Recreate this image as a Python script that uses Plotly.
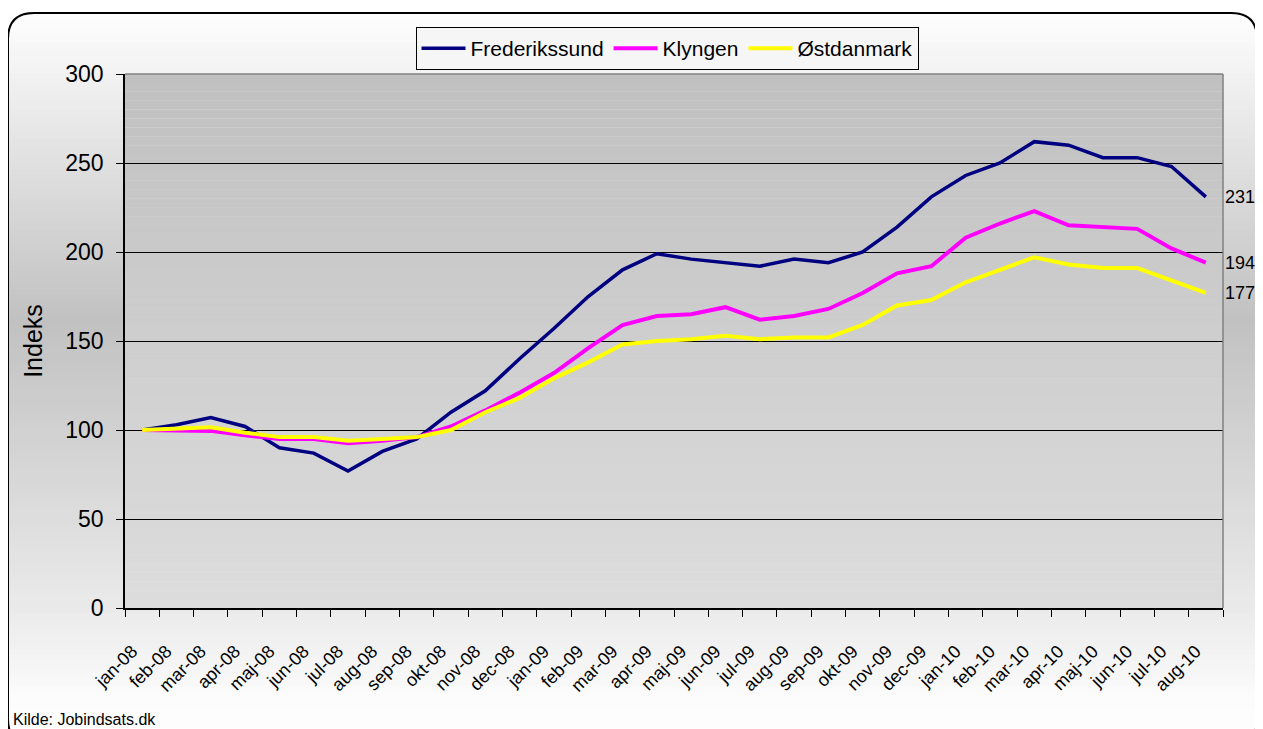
import plotly.graph_objects as go

months = ["jan-08", "feb-08", "mar-08", "apr-08", "maj-08", "jun-08", "jul-08", "aug-08",
          "sep-08", "okt-08", "nov-08", "dec-08", "jan-09", "feb-09", "mar-09", "apr-09",
          "maj-09", "jun-09", "jul-09", "aug-09", "sep-09", "okt-09", "nov-09", "dec-09",
          "jan-10", "feb-10", "mar-10", "apr-10", "maj-10", "jun-10", "jul-10", "aug-10"]

frederikssund = [100, 103, 107, 102, 90, 87, 77, 88, 95, 110, 122, 140, 157, 175, 190, 199,
                 196, 194, 192, 196, 194, 200, 214, 231, 243, 250, 262, 260, 253, 253, 248, 231]
klyngen = [100, 99.5, 99.5, 97, 95, 95, 92.5, 94, 96, 102, 111, 121, 132, 146, 159, 164,
           165, 169, 162, 164, 168, 177, 188, 192, 208, 216, 223, 215, 214, 213, 202, 194]
ostdanmark = [100, 101, 101.5, 98.5, 96, 96, 94, 95, 96, 100, 110, 118, 129, 138, 148, 150,
              151, 153, 151, 152, 152, 159, 170, 173, 183, 190, 197, 193, 191, 191, 184, 177]

series_names = ["Frederikssund", "Klyngen", "Østdanmark"]
series_values = [frederikssund, klyngen, ostdanmark]
series_colors = ["#000080", "#FF00FF", "#FFFF00"]
series_widths = [3.5, 4, 4]

y_ticks = [0, 50, 100, 150, 200, 250, 300]

# ---- layout geometry (pixels of the 1263x729 window) ----
OFF = 8                      # default page margin of the html body
WIN_W, WIN_H = 1263, 729
FW, FH = WIN_W - OFF, WIN_H - OFF
L, R, T, B = 125, 1223, 74, 608
W, H = R - L, B - T


def px(x):
    return (x - L) / W


def py(y):
    return (B - y) / H


def grey(v):
    v = int(round(max(0, min(255, v))))
    return f"rgb({v},{v},{v})"


def interp(stops, y):
    for (y0, v0), (y1, v1) in zip(stops, stops[1:]):
        if y0 <= y <= y1:
            return v0 + (v1 - v0) * (y - y0) / (y1 - y0)
    return stops[-1][1]


shapes = []
# outer background gradient
outer_stops = [(0, 255), (13, 254), (320, 193), (608, 234), (700, 252), (760, 255)]
step = 6
y = 13
while y < WIN_H + 10:
    c = interp(outer_stops, y + step / 2)
    shapes.append(dict(type="rect", xref="paper", yref="paper",
                       x0=px(9), x1=px(1256), y0=py(y), y1=py(y + step),
                       fillcolor=grey(c), line=dict(width=0), layer="below"))
    y += step

# plot area gradient
nb = 60
for i in range(nb):
    c = 221 - (221 - 192) * (i + 0.5) / nb
    shapes.append(dict(type="rect", xref="paper", yref="paper",
                       x0=0, x1=1, y0=i / nb, y1=(i + 1) / nb,
                       fillcolor=grey(c), line=dict(width=0), layer="below"))

# rounded outer border
x0b, x1b, y0b, y1b, r = 8, 1257, 13, 745, 26
path = (f"M {px(x0b)},{py(y0b + r)} Q {px(x0b)},{py(y0b)} {px(x0b + r)},{py(y0b)} "
        f"L {px(x1b - r)},{py(y0b)} Q {px(x1b)},{py(y0b)} {px(x1b)},{py(y0b + r)} "
        f"L {px(x1b)},{py(y1b - r)} Q {px(x1b)},{py(y1b)} {px(x1b - r)},{py(y1b)} "
        f"L {px(x0b + r)},{py(y1b)} Q {px(x0b)},{py(y1b)} {px(x0b)},{py(y1b - r)} Z")
shapes.append(dict(type="path", xref="paper", yref="paper", path=path,
                   line=dict(color="black", width=2), layer="above"))

# grey plot-area border (top and right)
shapes.append(dict(type="line", xref="paper", yref="paper", x0=0, x1=1, y0=1, y1=1,
                   line=dict(color="#808080", width=1.5), layer="above"))
shapes.append(dict(type="line", xref="paper", yref="paper", x0=1, x1=1, y0=0, y1=1,
                   line=dict(color="#808080", width=1.5), layer="above"))

fig = go.Figure()
for name, vals, col, wd in zip(series_names, series_values, series_colors, series_widths):
    fig.add_trace(go.Scatter(x=months, y=vals, name=name, mode="lines",
                             line=dict(color=col, width=wd)))

regular = "Liberation Sans, Arial, sans-serif"
narrow = "Liberation Sans Narrow, Arial Narrow, Liberation Sans, Arial, sans-serif"

annotations = []
for vals in series_values:
    annotations.append(dict(x=months[-1], y=vals[-1], xref="x", yref="y",
                            text=f"{vals[-1]:g}", showarrow=False, xanchor="left",
                            yanchor="middle", xshift=17,
                            font=dict(family=narrow, size=18, color="black")))
annotations.append(dict(x=px(11), y=py(719), xref="paper", yref="paper",
                        text="Kilde: Jobindsats.dk", showarrow=False,
                        xanchor="left", yanchor="middle",
                        font=dict(family=regular, size=16, color="black")))

fig.update_layout(
    width=FW, height=FH,
    margin=dict(l=L - OFF, r=WIN_W - R, t=T - OFF, b=WIN_H - B, autoexpand=False),
    paper_bgcolor="white",
    plot_bgcolor="rgba(0,0,0,0)",
    shapes=shapes,
    annotations=annotations,
    showlegend=True,
    legend=dict(orientation="h", x=px(667), xanchor="center", y=py(27), yanchor="top",
                bgcolor="#f6f6f6", bordercolor="black", borderwidth=1,
                font=dict(family=regular, size=21, color="black"),
                itemwidth=44, tracegroupgap=0),
    xaxis=dict(type="category", categoryorder="array", categoryarray=months,
               tickson="boundaries", ticks="outside", ticklen=7, tickcolor="black",
               tickwidth=1, showline=True, linecolor="black", linewidth=1.5,
               showgrid=False, tickangle=-45, ticklabelstandoff=24, ticklabelshift=-10,
               tickfont=dict(family=narrow, size=18, color="black"),
               range=[-0.5, len(months) - 0.5]),
    yaxis=dict(range=[0, 300], tickvals=y_ticks, ticks="outside", ticklen=7,
               tickcolor="black", tickwidth=1, showline=True, linecolor="black",
               linewidth=1.5, showgrid=True, gridcolor="black", gridwidth=1,
               zeroline=False, ticklabelstandoff=8,
               tickfont=dict(family=regular, size=23, color="black"),
               title=dict(text="Indeks", standoff=16,
                          font=dict(family=regular, size=25, color="black"))),
)

fig.write_html("out.html")
